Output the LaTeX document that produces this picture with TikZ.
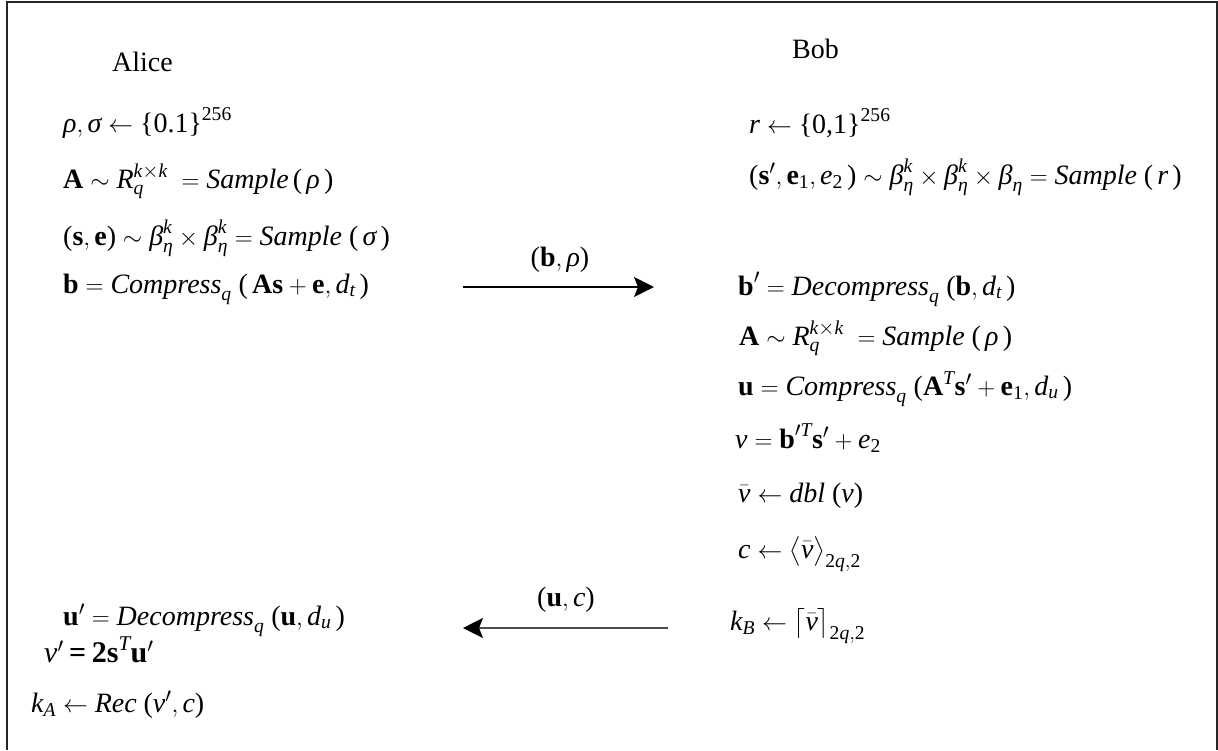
\documentclass[tikz,border=0pt]{standalone}
\usepackage{amsmath}
\usepackage{fontspec}
\setmainfont{Liberation Serif}
\usetikzlibrary{arrows.meta}
\newcommand{\iv}[1]{\textit{#1}}
\newcommand{\bv}[1]{\textbf{#1}}
\newcommand{\nm}[1]{\textup{#1}}
\newcommand{\lp}{\mathopen{\textup{(}}}
\newcommand{\rp}{\mathclose{\textup{)}}}
\newcommand{\lb}{\mathopen{\textup{\{}}}
\newcommand{\rb}{\mathclose{\textup{\}}}}
\tikzset{
  txt/.style={anchor=base west, inner sep=0pt, font=\fontsize{28}{34}\selectfont},
  who/.style={anchor=base west, inner sep=0pt, font=\fontsize{28}{34}\selectfont},
  lab/.style={anchor=center, inner sep=0pt, font=\fontsize{28}{34}\selectfont},
  msg/.style={line width=1.5pt, -{Stealth[length=20pt,width=20pt,inset=4pt,color=black]}},
  frame/.style={line width=1.4pt, black!85}
}
\begin{document}
\begin{tikzpicture}[x=1pt,y=-1pt]
\useasboundingbox (0,0) rectangle (1218,750);
\draw[frame] (7,750) -- (7,2) -- (1217,2) -- (1217,750);

\node[who] (alice) at (112,71) {Alice};
\node[who] (bob) at (792,58) {Bob};

\node[txt] (a1) at (63,132) {$\iv{ρ},\iv{σ} \leftarrow \lb\nm{0.1}\rb^{\nm{256}}$};
\node[txt] (a2) at (63,188) {$\bv{A} \sim \iv{R}_{\iv{q}}^{\iv{k}\times \iv{k}} \;= \iv{Sample}\,\lp\,\iv{ρ}\,\rp$};
\node[txt] (a3) at (63,245) {$\lp\bv{s},\bv{e}\rp \sim \iv{β}_{\iv{η}}^{\iv{k}} \times \iv{β}_{\iv{η}}^{\iv{k}} = \iv{Sample}\;\lp\,\iv{σ}\,\rp$};
\node[txt] (a4) at (63,293) {$\bv{b} = \iv{Compress}_{\iv{q}}\;\lp\,\bv{As}+\bv{e},\iv{d}_{\iv{t}}\,\rp$};

\node[txt] (b1) at (749,133) {$\iv{r} \leftarrow \lb\nm{0,1}\rb^{\nm{256}}$};
\node[txt] (b2) at (749,184) {$\lp\bv{s}',\bv{e}_{\nm{1}},\iv{e}_{\nm{2}}\,\rp \sim \iv{β}_{\iv{η}}^{\iv{k}} \times \iv{β}_{\iv{η}}^{\iv{k}} \times \iv{β}_{\iv{η}} = \iv{Sample}\;\lp\,\iv{r}\,\rp$};
\node[txt] (b3) at (738,295) {$\bv{b}' = \iv{Decompress}_{\iv{q}}\;\lp\bv{b},\iv{d}_{\iv{t}}\,\rp$};
\node[txt] (b4) at (739,345) {$\bv{A} \sim \iv{R}_{\iv{q}}^{\iv{k}\times \iv{k}} \;= \iv{Sample}\;\lp\,\iv{ρ}\,\rp$};
\node[txt] (b5) at (738,395) {$\bv{u} = \iv{Compress}_{\iv{q}}\;\lp\bv{A}^{\iv{T}}\bv{s}'+\bv{e}_{\nm{1}},\iv{d}_{\iv{u}}\,\rp$};
\node[txt] (b6) at (735,448) {$\iv{v} = \bv{b}'^{\iv{T}}\bv{s}' + \iv{e}_{\nm{2}}$};
\node[txt] (b7) at (738,502) {$\bar{\iv{v}} \leftarrow \iv{dbl}\;\lp\iv{v}\rp$};
\node[txt] (b8) at (738,558) {$\iv{c} \leftarrow \bigl\langle\bar{\iv{v}}\bigr\rangle_{\nm{2}\iv{q},\nm{2}}$};
\node[txt] (b9) at (730,630) {$\iv{k}_{\iv{B}} \leftarrow \bigl\lceil\bar{\iv{v}}\bigr\rceil_{\nm{2}\iv{q},\nm{2}}$};

\node[txt] (a5) at (63,625) {$\bv{u}' = \iv{Decompress}_{\iv{q}}\;\lp\bv{u},\iv{d}_{\iv{u}}\,\rp$};
\node[txt, font=\fontsize{30}{36}\selectfont] (a6) at (44,662) {$\iv{v}' \mathbin{\bv{=}} \bv{2s}^{\iv{T}}\bv{u}'$};
\node[txt] (a7) at (31,712) {$\iv{k}_{\iv{A}} \leftarrow \iv{Rec}\;\lp\iv{v}',\iv{c}\rp$};

\coordinate (m1s) at (463,287);
\coordinate (m1e) at (654,287);
\coordinate (m2s) at (668,628);
\coordinate (m2e) at (463,628);
\draw[msg] (m1s) -- (m1e);
\draw[msg, black!70] (m2s) -- (m2e);
\node[lab] (l1) at (560,260) {$\lp\bv{b},\iv{ρ}\rp$};
\node[lab] (l2) at (566,600) {$\lp\bv{u},\iv{c}\rp$};
\end{tikzpicture}
\end{document}
